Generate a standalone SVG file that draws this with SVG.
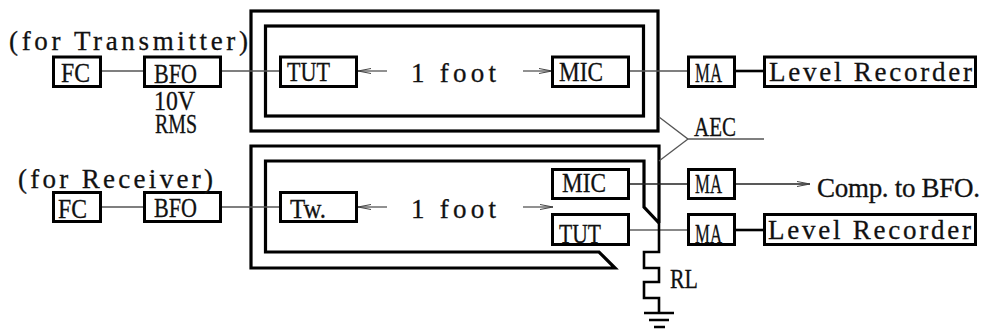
<svg xmlns="http://www.w3.org/2000/svg" width="984" height="331" viewBox="0 0 984 331">
<defs>
<marker id="ah" markerWidth="14" markerHeight="10" refX="13" refY="5" orient="auto" markerUnits="userSpaceOnUse"><path d="M0,2.500 L13,5 L0,7.500" fill="none" stroke="#444" stroke-width="1"/></marker>
</defs>
<style>
text{font-family:"Liberation Serif",serif;font-size:27px;fill:#111;stroke:#111;stroke-width:.3}
.b{fill:#fff;stroke:#000;stroke-width:3}
.w{fill:none;stroke:#000;stroke-width:3.2;stroke-linejoin:miter}
.l{fill:none;stroke:#555;stroke-width:1.3}
.d{fill:none;stroke:#222;stroke-width:1.3}
.t{fill:none;stroke:#000;stroke-width:2.6}
</style>
<g id="enclosures">
<rect class="w" x="251" y="11" width="407" height="120"/>
<rect class="w" x="265.500" y="26" width="378" height="90"/>
<path class="w" d="M659,223 V146 H251 V268 H615 L599,252 H265.500 V161 H644 V207 L659,223"/>
</g>
<g id="connectors">
<path class="l" d="M100,71 H144"/>
<path class="l" d="M221,71 H280"/>
<path class="l" d="M387,71 H358" marker-end="url(#ah)"/>
<path class="l" d="M523,71 H552" marker-end="url(#ah)"/>
<path class="l" d="M629,71 H688"/>
<path class="t" d="M735,71 H764"/>
<path class="l" d="M659,117 L688,139 H764"/>
<path class="l" d="M688,139 L659,161"/>
<path class="l" d="M100,207 H144"/>
<path class="l" d="M221,207 H280"/>
<path class="l" d="M387,207 H358" marker-end="url(#ah)"/>
<path class="l" d="M523,207 H553" marker-end="url(#ah)"/>
<path class="d" d="M629,184 H688"/>
<path class="d" d="M735,184 H810" marker-end="url(#ah)"/>
<path class="l" style="stroke:#888;stroke-width:2" d="M629,230 H688"/>
<path class="t" d="M735,230 H764"/>
<path class="t" d="M659,223 V252 H644 V268 H659 V282 H644 V298 H659 V313"/>
<path class="t" d="M644,313 H674 M649,320 H669 M654,327 H665"/>
</g>
<g id="fc1"><rect class="b" x="53.500" y="57" width="47" height="29.500"/><text x="61" y="82" textLength="29" lengthAdjust="spacingAndGlyphs">FC</text></g>
<g id="bfo1"><rect class="b" x="144.500" y="57" width="76" height="29.500"/><text x="154" y="83" textLength="43" lengthAdjust="spacingAndGlyphs">BFO</text></g>
<g id="tut1"><rect class="b" x="280.500" y="57" width="76" height="29.500"/><text x="287" y="81" textLength="43" lengthAdjust="spacingAndGlyphs">TUT</text></g>
<g id="mic1"><rect class="b" x="552.500" y="57" width="76" height="29.500"/><text x="559" y="81" textLength="44" lengthAdjust="spacingAndGlyphs">MIC</text></g>
<g id="ma1"><rect class="b" x="688.500" y="57" width="46" height="29.500"/><text x="695" y="82" textLength="27" lengthAdjust="spacingAndGlyphs">MA</text></g>
<g id="lr1"><rect class="b" x="764.500" y="57" width="211" height="29.500"/><text x="769" y="81" textLength="203" lengthAdjust="spacing">Level Recorder</text></g>
<g id="fc2"><rect class="b" x="53.500" y="192.500" width="47" height="29"/><text x="58" y="218" textLength="29" lengthAdjust="spacingAndGlyphs">FC</text></g>
<g id="bfo2"><rect class="b" x="144.500" y="192.500" width="76" height="29"/><text x="154" y="217" textLength="43" lengthAdjust="spacingAndGlyphs">BFO</text></g>
<g id="tw"><rect class="b" x="280.500" y="192.500" width="76" height="29"/><text x="290" y="218" textLength="36" lengthAdjust="spacingAndGlyphs">Tw.</text></g>
<g id="mic2"><rect class="b" x="552.500" y="169.500" width="76" height="29"/><text x="562" y="192" textLength="44" lengthAdjust="spacingAndGlyphs">MIC</text></g>
<g id="ma2"><rect class="b" x="688.500" y="169.500" width="46" height="29"/><text x="695" y="193" textLength="27" lengthAdjust="spacingAndGlyphs">MA</text></g>
<g id="tut2"><rect class="b" x="552.500" y="214.500" width="76" height="30"/><text x="559" y="243" textLength="42" lengthAdjust="spacingAndGlyphs">TUT</text></g>
<g id="ma3"><rect class="b" x="688.500" y="214.500" width="46" height="30"/><text x="695" y="243" textLength="27" lengthAdjust="spacingAndGlyphs">MA</text></g>
<g id="lr2"><rect class="b" x="764.500" y="214.500" width="211" height="30"/><text x="768" y="239" textLength="203" lengthAdjust="spacing">Level Recorder</text></g>
<g id="labels">
<text x="9" y="50" textLength="239" lengthAdjust="spacing">(for Transmitter)</text>
<text x="18" y="188" textLength="195" lengthAdjust="spacing">(for Receiver)</text>
<text x="154" y="110" textLength="41" lengthAdjust="spacingAndGlyphs">10V</text>
<text x="155" y="133" textLength="42" lengthAdjust="spacingAndGlyphs">RMS</text>
<text x="411" y="82" textLength="85" lengthAdjust="spacing">1 foot</text>
<text x="411" y="218" textLength="85" lengthAdjust="spacing">1 foot</text>
<text x="694" y="136" textLength="42" lengthAdjust="spacingAndGlyphs">AEC</text>
<text x="817" y="197" textLength="163" lengthAdjust="spacing">Comp. to BFO.</text>
<text x="670" y="288" textLength="28" lengthAdjust="spacingAndGlyphs">RL</text>
</g>
</svg>
